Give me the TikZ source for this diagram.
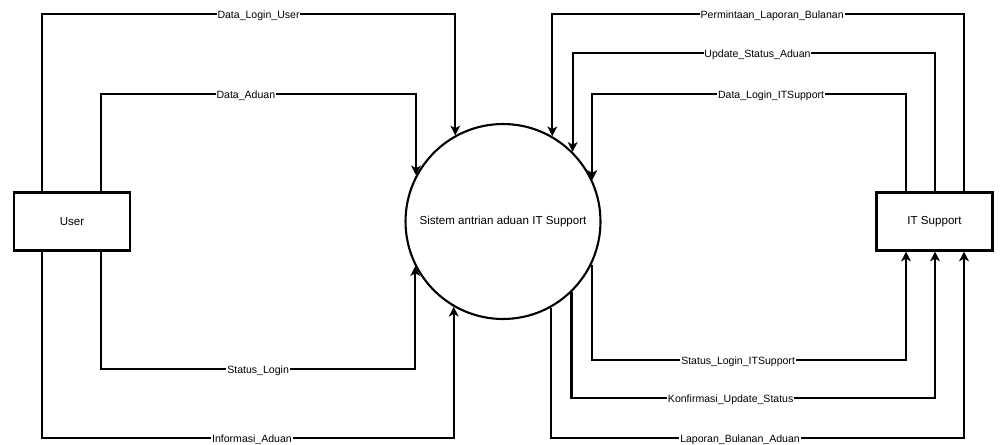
\documentclass[tikz,border=0pt]{standalone}
\usepackage{fontspec}
\setmainfont{Liberation Sans}
\usetikzlibrary{arrows.meta, positioning}

\begin{document}
\begin{tikzpicture}[
    x=0.02cm, y=-0.02cm,
    font=\fontsize{6.6}{8}\selectfont,
    >={Stealth[length=5.5pt, width=5.5pt, inset=1.5pt]},
    % Entity and process styles
    entity/.style={draw, line width=1.2pt, minimum width=2.32cm, minimum height=1.16cm},
    process/.style={circle, draw, line width=1.2pt, minimum size=3.9cm, inner sep=0pt},
    % Data flow styles
    flow/.style={line width=1.2pt, ->},
    lbl/.style={fill=white, inner sep=0.5pt, yshift=-1pt, font=\fontsize{6}{7}\selectfont}
]
    \useasboundingbox (0,0) rectangle (1000,444);

    % ==========================================
    % Entities and process
    % ==========================================
    \node[process] (sys) at (503,221.5) {Sistem antrian aduan IT Support};
    \node[entity] (user) at (72,221.5) {User};
    \node[entity] (its) at (934.5,221.5) {IT Support};

    % ==========================================
    % Flows User <-> Sistem
    % ==========================================
    \draw[flow] (user.north -| 42,0) |- (sys.119.8 |- 0,14)
        node[lbl, pos=0.762] (fDLU) {Data\_Login\_User} -- (sys.119.8);
    \draw[flow] (user.north -| 101,0) |- (sys.152.6 |- 0,94)
        node[lbl, pos=0.73] (fDA) {Data\_Aduan} -- (sys.152.6);
    \draw[flow] (user.south -| 101,0) |- (sys.207.4 |- 0,369)
        node[lbl, pos=0.75] (fSL) {Status\_Login} -- (sys.207.4);
    \draw[flow] (user.south -| 42,0) |- (sys.240.2 |- 0,438)
        node[lbl, pos=0.755] (fIA) {Informasi\_Aduan} -- (sys.240.2);

    % ==========================================
    % Flows IT Support <-> Sistem
    % ==========================================
    \draw[flow] (its.north -| 964,0) |- (sys.60.2 |- 0,14)
        node[lbl, pos=0.733] (fPLB) {Permintaan\_Laporan\_Bulanan} -- (sys.60.2);
    \draw[flow] (its.north -| 935,0) |- (sys.45.5 |- 0,53)
        node[lbl, pos=0.745] (fUSA) {Update\_Status\_Aduan} -- (sys.45.5);
    \draw[flow] (its.north -| 906,0) |- (sys.25.2 |- 0,94)
        node[lbl, pos=0.715] (fDLI) {Data\_Login\_ITSupport} -- (sys.25.2);
    \draw[flow] (sys.334.8) -- (sys.334.8 |- 0,360) -| (its.south -| 906,0)
        node[lbl, pos=0.233] (fSLI) {Status\_Login\_ITSupport};
    \draw[flow] (sys.314.5) -- (sys.314.5 |- 0,398) -| (its.south -| 935,0)
        node[lbl, pos=0.219] (fKUS) {Konfirmasi\_Update\_Status};
    \draw[flow] (sys.299.8) -- (sys.299.8 |- 0,438) -| (its.south -| 964,0)
        node[lbl, pos=0.229] (fLBA) {Laporan\_Bulanan\_Aduan};

\end{tikzpicture}
\end{document}
